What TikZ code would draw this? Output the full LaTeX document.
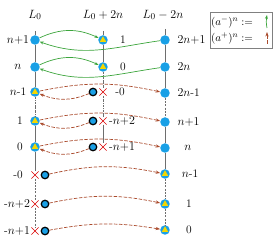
\documentclass[tikz,border=0pt]{standalone}
\usepackage{amsmath}
\usepackage{xcolor}
\usepackage{tikz}
\usetikzlibrary{shapes.misc, arrows.meta, positioning, calc}

\definecolor{dotblue}{RGB}{25,160,230}
\definecolor{triyellow}{RGB}{245,215,0}
\definecolor{arrgreen}{RGB}{60,165,60}
\definecolor{arrred}{RGB}{170,75,45}
\definecolor{linegray}{RGB}{110,110,110}

\begin{document}
\begin{tikzpicture}[
    x=1pt, y=-1pt,
    font=\fontsize{11.5}{13}\selectfont,
    dot/.style={circle, fill=dotblue, inner sep=0pt, minimum size=9.5pt},
    tri/.style={dot, path picture={\fill[triyellow] ($(path picture bounding box.center)+(90:3.7pt)$) -- ++(-120:6.4pt) -- ++(0:6.4pt) -- cycle;}},
    ring/.style={dot, draw=black, line width=1.2pt, minimum size=7.5pt},
    crossmark/.style={cross out, draw=red!85!black, line width=0.6pt, inner sep=0pt, minimum size=6.5pt},
    rail/.style={linegray, line width=0.6pt},
    railsolid/.style={rail},
    raildash/.style={rail, dash pattern=on 2pt off 1.2pt},
    raildashdot/.style={rail, dash pattern=on 2.2pt off 1pt on 0.5pt off 1pt},
    garrow/.style={arrgreen, line width=0.7pt, -{Stealth[length=4pt, width=3pt]}},
    rarrow/.style={arrred, line width=0.7pt, dash pattern=on 3.5pt off 1.5pt, -{Stealth[length=4.5pt, width=3.2pt]}}
]
\useasboundingbox (0,0) rectangle (274,246);

% headers
\node [font=\fontsize{12.5}{14}\selectfont] (hl) at (35,15) {$L_0$};
\node [font=\fontsize{12.5}{14}\selectfont] (hm) at (103,15) {$L_0+2n$};
\node [font=\fontsize{12.5}{14}\selectfont] (hr) at (163,15) {$L_0-2n$};

% column L_0
\coordinate (ltop) at (35,31);
\node [dot] (l1) at (35,40) {};
\node [dot] (l2) at (35,67) {};
\node [tri] (l3) at (35,92) {};
\node [tri] (l4) at (35,121) {};
\node [tri] (l5) at (35,147) {};
\node [crossmark] (l6) at (35,175) {};
\node [crossmark] (l7) at (35,204) {};
\node [crossmark] (l8) at (35,231) {};
\node [ring] (q6) at (45,175) {};
\node [ring] (q7) at (45,204) {};
\node [ring] (q8) at (45,231) {};

\node at (18,40) {$n{+}1$};
\node at (18,67) {$n$};
\node at (18,92) {$n$-1};
\node at (20,121) {1};
\node at (20,147) {0};
\node at (18,175) {-0};
\node at (17,204) {-$n{+}2$};
\node at (17,231) {-$n{+}1$};

% column L_0+2n
\coordinate (mtop) at (103,31);
\node [tri] (m1) at (103,40) {};
\node [tri] (m2) at (103,67) {};
\node [crossmark] (m3) at (103,92) {};
\node [crossmark] (m4) at (103,121) {};
\node [crossmark] (m5) at (103,147) {};
\node [ring] (p3) at (93,92) {};
\node [ring] (p4) at (93,121) {};
\node [ring] (p5) at (93,147) {};

\node at (123,40) {1};
\node at (123,67) {0};
\node at (120,92) {-0};
\node at (122,121) {-$n{+}2$};
\node at (122,147) {-$n{+}1$};

% column L_0-2n
\coordinate (rtop) at (165,29);
\node [dot] (r1) at (165,40) {};
\node [dot] (r2) at (165,67) {};
\node [dot] (r3) at (165,93) {};
\node [dot] (r4) at (165,122) {};
\node [dot] (r5) at (165,148) {};
\node [tri] (r6) at (165,174) {};
\node [tri] (r7) at (165,204) {};
\node [tri] (r8) at (165,230) {};

\node [anchor=west] at (174,40) {$2n{+}1$};
\node [anchor=west] at (174,67) {$2n$};
\node [anchor=west] at (174,93) {$2n$-1};
\node [anchor=west] at (174,122) {$n{+}1$};
\node at (188,148) {$n$};
\node at (190,174) {$n$-1};
\node at (189,204) {1};
\node at (189,230) {0};

% rails
\draw [railsolid] (ltop) -- (l1);
\draw [railsolid] (l1) -- (l2);
\draw [railsolid] (l2) -- (l3);
\draw [raildashdot] (l3) -- (l4);
\draw [railsolid] (l4) -- (l5);
\draw [railsolid] (l5) -- (l6);
\draw [raildash] (l6) -- (l7);
\draw [raildash] (l7) -- (l8);

\draw [railsolid] (mtop) -- (m1);
\draw [railsolid] (m1) -- (m2);
\draw [raildashdot] (m2) -- (m3);
\draw [raildashdot] (m3) -- (m4);
\draw [railsolid] (m4) -- (m5);

\draw [railsolid] (rtop) -- (r1);
\draw [railsolid] (r1) -- (r2);
\draw [railsolid] (r2) -- (r3);
\draw [raildash] (r3) -- (r4);
\draw [railsolid] (r4) -- (r5);
\draw [railsolid] (r5) -- (r6);
\draw [raildash] (r6) -- (r7);
\draw [raildash] (r7) -- (r8);

% lowering arrows
\draw [garrow] (l1) to[bend left=25] (m1);
\draw [garrow] (l2) to[bend left=25] (m2);
\draw [garrow] (r1) to[out=188, in=-20] (l1);
\draw [garrow] (r2) to[out=188, in=-20] (l2);

% raising arrows
\draw [rarrow] (p3) to[bend left=22] (l3);
\draw [rarrow] (p4) to[bend left=22] (l4);
\draw [rarrow] (p5) to[bend left=22] (l5);
\draw [rarrow] (l3) to[bend left=12] (r3);
\draw [rarrow] (l4) to[bend left=12] (r4);
\draw [rarrow] (l5) to[bend left=12] (r5);
\draw [rarrow] (q6) to[bend left=12] (r6);
\draw [rarrow] (q7) to[bend left=12] (r7);
\draw [rarrow] (q8) to[bend left=10] (r8);

% legend
\node [draw=gray, minimum width=62pt, minimum height=36pt, inner sep=0pt] (legend) at (241,30) {};
\node [anchor=west, inner sep=0pt, font=\fontsize{11}{13}\selectfont] (lgm) at (211,22) {$(a^-)^n :=$};
\node [anchor=west, inner sep=0pt, font=\fontsize{11}{13}\selectfont] (lgp) at (211,38) {$(a^+)^n :=$};
\coordinate (gs) at (267,28);
\coordinate (ge) at (267,15);
\coordinate (rs) at (267,44);
\coordinate (re) at (267,32);
\draw [garrow] (gs) to[bend left=10] (ge);
\draw [rarrow] (rs) -- (re);
\end{tikzpicture}
\end{document}
